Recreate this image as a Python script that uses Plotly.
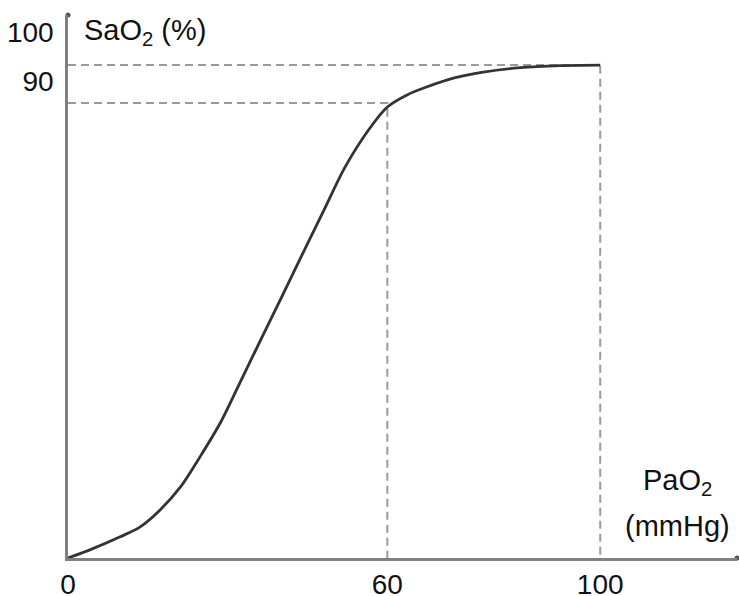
import plotly.graph_objects as go

# Oxygen dissociation curve
pao2 = [0, 4.1, 9.8, 13.5, 17.3, 21.1, 24.8, 28.6, 32, 36, 40, 44, 48,
        52, 56.5, 60, 63.7, 67.5, 72.4, 78, 85, 92.5, 100]
sao2 = [0, 1.6, 4.2, 6.1, 9.5, 14.0, 20.0, 26.7, 34.0, 42.7, 51.3, 60.0, 68.6,
        77.2, 84.7, 89.2, 91.6, 93.2, 94.9, 96.1, 97.0, 97.4, 97.5]

# reference (dashed) points
ref_pao2 = [60, 100]
ref_sao2 = [90, 97.5]

x_ticks = [0, 60, 100]
x_ticktext = ["0", "60", "100"]
y_ticks = [94.3, 104.0]
y_ticktext = ["90", "100"]

X_MAX = 125.7
Y_MAX = 107.4

FONT = "Liberation Sans, Arial, sans-serif"
fig = go.Figure()

# dashed guide lines
for px, sy in zip(ref_pao2, ref_sao2):
    fig.add_trace(go.Scatter(x=[0, px, px], y=[sy, sy, 0], mode="lines",
                             line=dict(color="#9a9a9a", width=2, dash="8px,5px"),
                             hoverinfo="skip", showlegend=False))

# curve
fig.add_trace(go.Scatter(x=pao2, y=sao2, mode="lines",
                         line=dict(color="#333333", width=2.8, shape="spline", smoothing=0.8),
                         showlegend=False))

# arrow-end dots on axes
fig.add_trace(go.Scatter(x=[0, X_MAX], y=[Y_MAX, 0], mode="markers",
                         marker=dict(color="#555555", size=5), cliponaxis=False,
                         hoverinfo="skip", showlegend=False))

fig.update_layout(
    width=739, height=596,
    margin=dict(l=68, r=2, t=15, b=38, autoexpand=False),
    plot_bgcolor="white", paper_bgcolor="white",
    font=dict(family=FONT, size=28, color="#111111"),
    xaxis=dict(range=[0, X_MAX], showgrid=False, zeroline=False,
               showline=True, linecolor="#808080", linewidth=2.5,
               tickmode="array", tickvals=x_ticks, ticktext=x_ticktext,
               ticks="", ticklabelstandoff=0, fixedrange=True),
    yaxis=dict(range=[0, Y_MAX], showgrid=False, zeroline=False,
               showline=True, linecolor="#808080", linewidth=2.5,
               tickmode="array", tickvals=y_ticks, ticktext=y_ticktext,
               ticks="", ticklabelstandoff=6, fixedrange=True),
    annotations=[
        dict(text="SaO<sub>2</sub> (%)", x=2.6, y=104.0, xref="x", yref="y",
             xanchor="left", yanchor="middle", showarrow=False,
             font=dict(family=FONT, size=29, color="#111111")),
        dict(text="PaO<sub>2</sub>", x=(677 - 68) / 5.32, y=(558 - 482) / 5.056,
             xref="x", yref="y", xanchor="center", yanchor="middle", showarrow=False,
             font=dict(family=FONT, size=29, color="#111111")),
        dict(text="(mmHg)", x=(677 - 68) / 5.32, y=(558 - 526) / 5.056,
             xref="x", yref="y", xanchor="center", yanchor="middle", showarrow=False,
             font=dict(family=FONT, size=29, color="#111111")),
    ],
)

fig.write_html("out.html", config={"displayModeBar": False},
               post_script="document.body.style.margin='0px';")
